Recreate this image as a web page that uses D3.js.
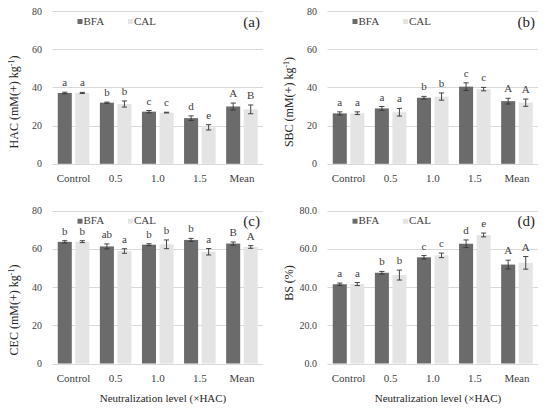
<!DOCTYPE html>
<html lang="en">
<head>
    <meta charset="UTF-8">
    <title>Neutralization level charts</title>
    <script src="https://cdnjs.cloudflare.com/ajax/libs/d3/7.8.5/d3.min.js"></script>
    <style>
        body {
            margin: 0;
            background-color: #ffffff;
        }
        svg text { font-family: 'Liberation Serif', 'Times New Roman', serif; }
        .tick-label { font-size: 10px; fill: #404040; }
        .cat-label { font-size: 11px; fill: #404040; }
        .letter { font-size: 11px; fill: #404040; }
        .legend-text { font-size: 11px; fill: #404040; }
        .panel-label { font-size: 15px; fill: #262626; }
        .axis-title { font-size: 12px; fill: #262626; }
    </style>
</head>
<body>
    <svg id="chart" width="550" height="410"></svg>

    <script>
        // Data
        const categories = ['Control', '0.5', '1.0', '1.5', 'Mean'];
        const series = ['BFA', 'CAL'];

        // (a) HAC
        const hacBFA = [37.1, 32.0, 27.3, 23.9, 30.0];
        const hacBFAErr = [0.4, 0.3, 0.6, 1.2, 1.8];
        const hacCAL = [37.1, 31.3, 26.8, 19.1, 28.5];
        const hacCALErr = [0.3, 1.6, 0.2, 1.4, 2.3];
        const hacLettersBFA = ['a', 'b', 'c', 'd', 'A'];
        const hacLettersCAL = ['a', 'b', 'c', 'e', 'B'];

        // (b) SBC
        const sbcBFA = [26.4, 29.0, 34.6, 40.4, 32.8];
        const sbcBFAErr = [0.8, 1.0, 0.7, 2.0, 1.5];
        const sbcCAL = [26.5, 27.0, 35.2, 39.1, 32.0];
        const sbcCALErr = [0.7, 2.0, 1.9, 0.9, 1.9];
        const sbcLettersBFA = ['a', 'a', 'b', 'c', 'A'];
        const sbcLettersCAL = ['a', 'a', 'b', 'c', 'A'];

        // (c) CEC
        const cecBFA = [63.7, 61.3, 62.2, 64.7, 62.8];
        const cecBFAErr = [0.6, 1.3, 0.5, 0.8, 0.8];
        const cecCAL = [63.8, 58.9, 62.4, 58.5, 61.0];
        const cecCALErr = [0.5, 1.2, 2.3, 1.7, 0.7];
        const cecLettersBFA = ['b', 'ab', 'b', 'b', 'B'];
        const cecLettersCAL = ['b', 'a', 'b', 'a', 'A'];

        // (d) BS
        const bsBFA = [41.5, 47.5, 55.6, 62.7, 51.8];
        const bsBFAErr = [0.6, 0.7, 0.9, 2.0, 2.3];
        const bsCAL = [41.6, 46.3, 56.6, 67.3, 52.7];
        const bsCALErr = [0.8, 2.6, 1.2, 1.0, 3.3];
        const bsLettersBFA = ['a', 'b', 'c', 'd', 'A'];
        const bsLettersCAL = ['a', 'b', 'c', 'e', 'A'];

        const yTicks = [0, 20, 40, 60, 80];

        const colors = { BFA: '#6b6b6b', CAL: '#e4e4e4' };

        const panels = [
            { id: '(a)', title: 'HAC', unit: true, ox: 0, oy: 0, top: 11, titleY: 102, fmt: d3.format('d'),
              BFA: hacBFA, BFAErr: hacBFAErr, CAL: hacCAL, CALErr: hacCALErr, lBFA: hacLettersBFA, lCAL: hacLettersCAL },
            { id: '(b)', title: 'SBC', unit: true, ox: 275, oy: 0, top: 11, titleY: 102, fmt: d3.format('d'),
              BFA: sbcBFA, BFAErr: sbcBFAErr, CAL: sbcCAL, CALErr: sbcCALErr, lBFA: sbcLettersBFA, lCAL: sbcLettersCAL },
            { id: '(c)', title: 'CEC', unit: true, ox: 0, oy: 205, top: 210.7, titleY: 310, fmt: d3.format('d'), xTitle: true,
              BFA: cecBFA, BFAErr: cecBFAErr, CAL: cecCAL, CALErr: cecCALErr, lBFA: cecLettersBFA, lCAL: cecLettersCAL },
            { id: '(d)', title: 'BS (%)', unit: false, ox: 275, oy: 205, top: 210.7, titleY: 283, fmt: d3.format('.1f'), xTitle: true,
              BFA: bsBFA, BFAErr: bsBFAErr, CAL: bsCAL, CALErr: bsCALErr, lBFA: bsLettersBFA, lCAL: bsLettersCAL }
        ];

        const svg = d3.select('#chart');
        const plotW = 210.5;
        const plotH = 152.8;

        function drawPanel(p) {
            const left = p.ox + 52.5;
            const right = left + plotW;
            const top = p.top;
            const bottom = top + plotH;

            const g = svg.append('g');

            const x0 = d3.scaleBand()
                .domain(categories)
                .range([left, right])
                .paddingInner(0.25)
                .paddingOuter(0.125);

            const x1 = d3.scaleBand()
                .domain(series)
                .range([0, x0.bandwidth()])
                .paddingInner(0.2);

            const y = d3.scaleLinear()
                .domain([0, 80])
                .range([bottom, top]);

            // gridlines
            g.selectAll('.grid')
                .data(yTicks)
                .enter().append('line')
                .attr('x1', left)
                .attr('x2', right)
                .attr('y1', d => Math.round(y(d)) + 0.5)
                .attr('y2', d => Math.round(y(d)) + 0.5)
                .attr('stroke', '#d9d9d9')
                .attr('stroke-width', 1);

            // y tick labels
            g.selectAll('.tick-label')
                .data(yTicks)
                .enter().append('text')
                .attr('class', 'tick-label')
                .attr('x', left - 10.5)
                .attr('y', d => y(d) + 3.5)
                .attr('text-anchor', 'end')
                .text(d => p.fmt(d));

            // bars
            series.forEach(s => {
                const vals = p[s];
                const errs = p[s + 'Err'];
                const letters = p['l' + s];

                g.selectAll('.bar-' + s)
                    .data(vals)
                    .enter().append('rect')
                    .attr('x', (d, i) => x0(categories[i]) + x1(s))
                    .attr('y', d => y(d))
                    .attr('width', x1.bandwidth())
                    .attr('height', d => bottom - y(d))
                    .attr('fill', colors[s]);

                // error bars
                const eg = g.selectAll('.err-' + s)
                    .data(vals)
                    .enter().append('g');
                const cx = i => x0(categories[i]) + x1(s) + x1.bandwidth() / 2;
                eg.append('line')
                    .attr('x1', (d, i) => cx(i))
                    .attr('x2', (d, i) => cx(i))
                    .attr('y1', (d, i) => y(d + errs[i]))
                    .attr('y2', (d, i) => y(d - errs[i]))
                    .attr('stroke', '#333')
                    .attr('stroke-width', 0.9);
                [1, -1].forEach(sign => {
                    eg.append('line')
                        .attr('x1', (d, i) => cx(i) - 2.6)
                        .attr('x2', (d, i) => cx(i) + 2.6)
                        .attr('y1', (d, i) => y(d + sign * errs[i]))
                        .attr('y2', (d, i) => y(d + sign * errs[i]))
                        .attr('stroke', '#333')
                        .attr('stroke-width', 0.9);
                });

                // significance letters
                g.selectAll('.letter-' + s)
                    .data(vals)
                    .enter().append('text')
                    .attr('class', 'letter')
                    .attr('x', (d, i) => cx(i))
                    .attr('y', (d, i) => y(d + errs[i]) - 6)
                    .attr('text-anchor', 'middle')
                    .text((d, i) => letters[i]);
            });

            // category labels
            g.selectAll('.cat-label')
                .data(categories)
                .enter().append('text')
                .attr('class', 'cat-label')
                .attr('x', d => x0(d) + x0.bandwidth() / 2)
                .attr('y', bottom + 18)
                .attr('text-anchor', 'middle')
                .text(d => d);

            // legend
            const legendItems = [
                { name: 'BFA', dx: 25 },
                { name: 'CAL', dx: 75.5 }
            ];
            legendItems.forEach(item => {
                g.append('rect')
                    .attr('x', left + item.dx)
                    .attr('y', top + 8)
                    .attr('width', 5)
                    .attr('height', 5)
                    .attr('fill', colors[item.name]);
                g.append('text')
                    .attr('class', 'legend-text')
                    .attr('x', left + item.dx + 6)
                    .attr('y', top + 13.5)
                    .text(item.name);
            });

            // panel label
            g.append('text')
                .attr('class', 'panel-label')
                .attr('x', right - 3)
                .attr('y', top + 15.5)
                .attr('text-anchor', 'end')
                .text(p.id);

            // y title
            const yt = g.append('text')
                .attr('class', 'axis-title')
                .attr('transform', `translate(${p.ox + 18},${p.titleY}) rotate(-90)`)
                .attr('text-anchor', 'middle');
            if (p.unit) {
                yt.append('tspan').text(p.title + ' (mM(+) kg');
                yt.append('tspan').attr('dy', -4).attr('font-size', '8px').text('-1');
                yt.append('tspan').attr('dy', 4).text(')');
            } else {
                yt.text(p.title);
            }

            // x title
            if (p.xTitle) {
                g.append('text')
                    .attr('class', 'axis-title')
                    .attr('x', p.ox + 163)
                    .attr('y', 401.5)
                    .attr('text-anchor', 'middle')
                    .style('font-size', '11px')
                    .text('Neutralization level (\u00d7HAC)');
            }
        }

        panels.forEach(drawPanel);
    </script>
</body>
</html>
